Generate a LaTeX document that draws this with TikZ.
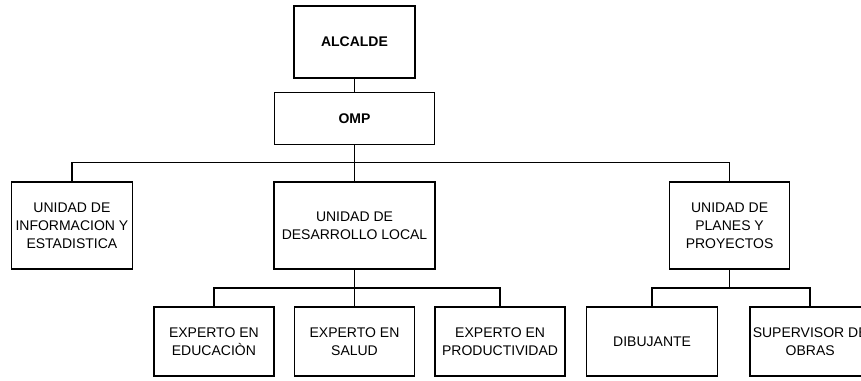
\documentclass[tikz,border=0pt]{standalone}
\usepackage{fontspec}
\setmainfont{Liberation Sans}
\usepackage{tikz}
\usetikzlibrary{positioning}

\begin{document}
\begin{tikzpicture}[x=1pt,y=1pt,line width=1.6pt,box/.style={draw,rectangle,align=center,inner sep=2pt,font=\fontsize{14}{18}\selectfont,minimum height=87pt},low/.style={box,minimum height=69pt}]
  \useasboundingbox (0,0) rectangle (861,-380);
  \node[box,minimum width=121pt,minimum height=72pt,font=\fontsize{14}{18}\selectfont\bfseries] (alc) at (354.5,-42) {ALCALDE};
  \node[box,minimum width=160pt,minimum height=52pt,font=\fontsize{14}{18}\selectfont\bfseries,below=13pt of alc] (omp) {OMP};
  \node[box,minimum width=161pt,below=36pt of omp] (desa) {UNIDAD DE\\DESARROLLO LOCAL};
  \node[box,minimum width=121pt,left=140pt of desa] (info) {UNIDAD DE\\INFORMACION Y\\ESTADISTICA};
  \node[box,minimum width=120pt,right=233pt of desa] (plan) {UNIDAD DE\\PLANES Y\\PROYECTOS};
  \node[low,minimum width=120pt,below=36pt of desa] (sal) {EXPERTO EN\\SALUD};
  \node[low,minimum width=120pt,left=19pt of sal] (edu) {EXPERTO EN\\EDUCACIÒN};
  \node[low,minimum width=130pt,right=19pt of sal] (prod) {EXPERTO EN\\PRODUCTIVIDAD};
  \node[low,minimum width=131pt,below=36pt of plan,xshift=-77.5pt] (dib) {DIBUJANTE};
  \node[low,minimum width=120pt,right=31pt of dib] (sup) {SUPERVISOR DE\\OBRAS};
  % lineas
  \draw (alc) -- (omp);
  \draw (omp) -- (desa);
  \draw (info.north) -- ++(0,19) -| (plan.north);
  \draw (desa) -- (sal);
  \draw (edu.north) -- ++(0,18) -| (prod.north);
  \draw (dib.north) -- ++(0,18) coordinate (b3) -| (sup.north);
  \draw (plan.south) -- (plan.south |- b3);
\end{tikzpicture}
\end{document}
